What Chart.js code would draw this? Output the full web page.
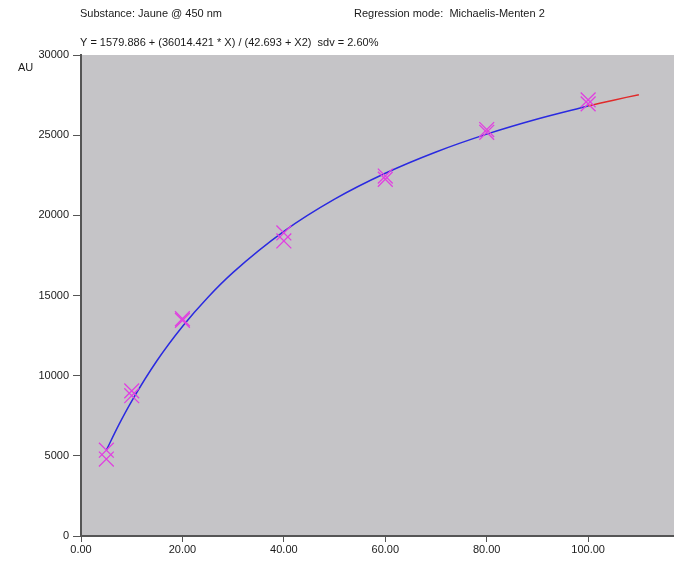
<!DOCTYPE html>
<html><head><meta charset="utf-8">
<script src="https://cdn.jsdelivr.net/npm/chart.js@4"></script>
<style>html,body{margin:0;padding:0;background:#fff}#wrap{width:674px;height:565px;position:relative}</style>
</head><body><div id="wrap"><canvas id="c" width="674" height="565"></canvas></div>
<script>
// Measured standards (replicates)
const sampleX = [5, 5, 10, 10, 20, 20, 40, 40, 60, 60, 80, 80, 100, 100];
const sampleY = [5350, 4800, 9050, 8750, 13550, 13450, 18900, 18400, 22450, 22250, 25350, 25180, 27200, 26950];
// Fitted curve (blue: fitted range, red: extrapolated)
const fitX = [5, 7.5, 10, 15, 20, 25, 30, 40, 50, 60, 70, 80, 90, 100];
const fitY = [5356, 6961, 8415, 10944, 13069, 14881, 16443, 19001, 21007, 22622, 23951, 25063, 26007, 26819];
const extX = [100, 105, 110];
const extY = [26819, 27184, 27525];
const xTicks = [0, 20, 40, 60, 80, 100];
const yTicks = [0, 5000, 10000, 15000, 20000, 25000, 30000];
const titleLeft = 'Substance: Jaune @ 450 nm';
const titleRight = 'Regression mode:  Michaelis-Menten 2';
const equation = 'Y = 1579.886 + (36014.421 * X) / (42.693 + X2)  sdv = 2.60%';
const yUnit = 'AU';

const pts = (xs, ys) => xs.map((x, i) => ({x, y: ys[i]}));
const FONT = 'Liberation Sans, Arial, sans-serif';

const bgPlugin = {
  id: 'bg',
  beforeDraw(chart) {
    const {ctx, chartArea: a, width} = chart;
    ctx.save();
    ctx.fillStyle = '#c5c4c7';
    ctx.fillRect(a.left, a.top, width - a.left, a.bottom - a.top);
    ctx.restore();
  },
  afterDraw(chart) {
    const {ctx, chartArea: a, width} = chart;
    ctx.save();
    // continue the x axis line to the edge of the picture
    ctx.strokeStyle = '#555';
    ctx.lineWidth = 2;
    ctx.beginPath();
    ctx.moveTo(a.right - 2, a.bottom);
    ctx.lineTo(width, a.bottom);
    ctx.stroke();
    ctx.fillStyle = '#1a1a1a';
    ctx.font = '11px ' + FONT;
    ctx.textBaseline = 'middle';
    ctx.textAlign = 'left';
    ctx.fillText(titleLeft, 80, 14);
    ctx.fillText(titleRight, 354, 14);
    ctx.fillText(equation, 80, 43);
    ctx.fillText(yUnit, 18, 68);
    ctx.restore();
  }
};

new Chart(document.getElementById('c'), {
  type: 'scatter',
  data: {
    datasets: [
      {data: pts(fitX, fitY), showLine: true, borderColor: '#2a2ae0', borderWidth: 1.5, pointRadius: 0, tension: 0.4, cubicInterpolationMode: 'monotone', order: 2},
      {data: pts(extX, extY), showLine: true, borderColor: '#e02a2a', borderWidth: 1.5, pointRadius: 0, tension: 0.4, order: 2},
      {data: pts(sampleX, sampleY), showLine: false, pointStyle: 'crossRot', pointRadius: 10.5, pointBorderColor: '#e040e0', pointBorderWidth: 1.3, pointBackgroundColor: '#e040e0', order: 1}
    ]
  },
  options: {
    responsive: false,
    animation: false,
    plugins: {legend: {display: false}, tooltip: {enabled: false}},
    layout: {padding: {top: 55, right: 0, left: 0, bottom: 0}},
    scales: {
      x: {
        type: 'linear', min: 0, max: 114.6,
        afterBuildTicks(s) { s.ticks = xTicks.map(v => ({value: v})); },
        afterFit(s) { s.height = 29; s.paddingRight = 0; s.paddingLeft = 0; },
        ticks: {font: {family: FONT, size: 11}, color: '#1a1a1a', padding: 1, maxRotation: 0, callback: v => Number(v).toFixed(2)},
        grid: {drawOnChartArea: false, tickLength: 6, color: '#555', tickWidth: 1},
        border: {color: '#555', width: 2}
      },
      y: {
        type: 'linear', min: 0, max: 30000,
        afterBuildTicks(s) { s.ticks = yTicks.map(v => ({value: v})); },
        afterFit(s) { s.width = 81; s.paddingTop = 0; s.paddingBottom = 0; },
        ticks: {font: {family: FONT, size: 11}, color: '#1a1a1a', padding: 4, callback: v => String(v)},
        grid: {drawOnChartArea: false, tickLength: 8, color: '#555', tickWidth: 1},
        border: {color: '#555', width: 2}
      }
    }
  },
  plugins: [bgPlugin]
});
</script></body></html>
